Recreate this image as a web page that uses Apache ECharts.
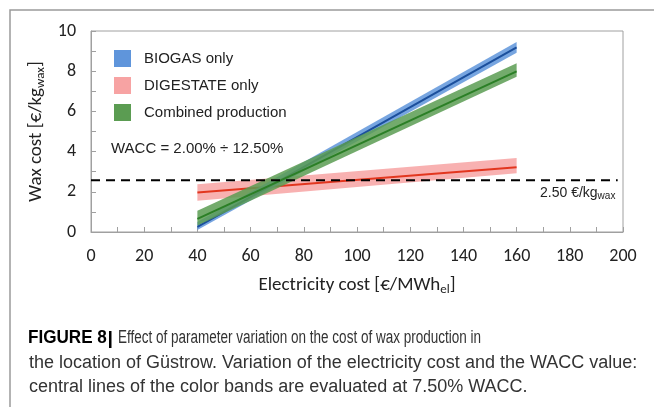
<!DOCTYPE html>
<html>
<head>
<meta charset="utf-8">
<script src="https://cdn.jsdelivr.net/npm/echarts@6/dist/echarts.min.js"></script>
<style>
  html, body { margin: 0; padding: 0; background: #fff; }
  #chart { width: 654px; height: 407px; }
</style>
</head>
<body>
<div id="chart"></div>
<script>
// electricity cost end points [€/MWh_el]
var xPoints = [40, 160];

// wax cost [€/kg_wax]: low / central (7.50% WACC) / high
var biogasLow = [0.1, 8.92];
var biogasMid = [0.25, 9.19];
var biogasHigh = [0.5, 9.45];

var digestateLow = [1.56, 2.92];
var digestateMid = [1.97, 3.22];
var digestateHigh = [2.37, 3.68];

var combinedLow = [0.32, 7.72];
var combinedMid = [0.65, 7.99];
var combinedHigh = [1.06, 8.4];

var targetCost = 2.57;
var targetRange = [0, 198];

var xTicks = [0, 20, 40, 60, 80, 100, 120, 140, 160, 180, 200];
var yTicks = [0, 2, 4, 6, 8, 10];

var font = 'Carlito, "Open Sans", sans-serif';
var capFont = 'Liberation Sans';

function pairs(xs, ys) {
    return xs.map(function (x, i) { return [x, ys[i]]; });
}

// polygon band between low and high lines
function band(name, color, low, high, z) {
    return {
        name: name,
        type: 'custom',
        itemStyle: { color: color },
        data: pairs(xPoints, low),
        z: z,
        renderItem: function (params, api) {
            if (params.dataIndex !== 0) return;
            var pts = [];
            for (var i = 0; i < xPoints.length; i++) pts.push(api.coord([xPoints[i], low[i]]));
            for (var j = xPoints.length - 1; j >= 0; j--) pts.push(api.coord([xPoints[j], high[j]]));
            return {
                type: 'polygon',
                shape: { points: pts },
                style: { fill: color, opacity: 0.85 }
            };
        }
    };
}

function centerLine(color, mid, z) {
    return {
        type: 'line',
        data: pairs(xPoints, mid),
        symbol: 'none',
        z: z,
        lineStyle: { color: color, width: 2 }
    };
}

var chart = echarts.init(document.getElementById('chart'));
chart.setOption({
    backgroundColor: '#fff',
    animation: false,
    grid: {
        left: 91, right: 31, top: 31, bottom: 175,
        show: true, borderColor: '#a0a0a0', borderWidth: 1
    },
    legend: {
        orient: 'vertical',
        left: 109, top: 45,
        itemWidth: 17, itemHeight: 17, itemGap: 10,
        icon: 'rect',
        data: ['BIOGAS only', 'DIGESTATE only', 'Combined production'],
        textStyle: { fontFamily: 'Liberation Sans', fontSize: 15, color: '#222', padding: [0, 0, 0, 8] }
    },
    xAxis: {
        type: 'value', min: 0, max: 200, interval: 20,
        name: 'Electricity cost [€/MWh{sub|el}]',
        nameLocation: 'middle', nameGap: 42,
        nameTextStyle: {
            fontFamily: font, fontSize: 19, color: '#222',
            rich: { sub: { fontSize: 13, verticalAlign: 'bottom', padding: [9, 0, 0, 0], fontFamily: font } }
        },
        axisLine: { lineStyle: { color: '#a0a0a0' } },
        axisTick: { inside: true, length: 5, lineStyle: { color: '#a0a0a0' } },
        minorTick: { show: true, splitNumber: 2, length: 5, lineStyle: { color: '#a0a0a0' } },
        axisLabel: {
            margin: 15, fontFamily: font, fontSize: 18, color: '#222',
            formatter: function (v) { return xTicks.indexOf(v) >= 0 ? v : ''; }
        },
        splitLine: { show: false }
    },
    yAxis: {
        type: 'value', min: 0, max: 10, interval: 2,
        name: 'Wax cost [€/kg{sub|wax}]',
        nameLocation: 'middle', nameGap: 36, nameRotate: 90,
        nameTextStyle: {
            fontFamily: font, fontSize: 19, color: '#222',
            rich: { sub: { fontSize: 13, verticalAlign: 'bottom', padding: [9, 0, 0, 0], fontFamily: font } }
        },
        axisLine: { show: true, lineStyle: { color: '#a0a0a0' } },
        axisTick: { show: true, inside: true, length: 5, lineStyle: { color: '#a0a0a0' } },
        minorTick: { show: true, splitNumber: 2, length: 5, lineStyle: { color: '#a0a0a0' } },
        axisLabel: {
            margin: 15, fontFamily: font, fontSize: 18, color: '#222',
            formatter: function (v) { return yTicks.indexOf(v) >= 0 ? v : ''; }
        },
        splitLine: { show: false }
    },
    series: [
        band('DIGESTATE only', '#f7a3a3', digestateLow, digestateHigh, 2),
        centerLine('#e2361f', digestateMid, 3),
        band('BIOGAS only', '#5f95db', biogasLow, biogasHigh, 4),
        centerLine('#1b4f9c', biogasMid, 5),
        band('Combined production', '#5b9c52', combinedLow, combinedHigh, 6),
        centerLine('#2b7f26', combinedMid, 7),
        {
            type: 'line',
            data: pairs(targetRange, [targetCost, targetCost]),
            symbol: 'none',
            z: 8,
            lineStyle: { color: '#000', width: 2, type: [9, 6] }
        }
    ],
    graphic: [
        // outer frame of the figure
        { type: 'polyline', shape: { points: [[10, 407], [10, 10], [654, 10]] },
          style: { stroke: '#9a9a9a', lineWidth: 1.5, fill: null } },
        { type: 'text', left: 111, top: 141,
          style: { text: 'WACC = 2.00% ÷ 12.50%', fontFamily: 'Liberation Sans', fontSize: 15, fill: '#222' } },
        { type: 'text', left: 540, top: 186,
          style: {
              text: '2.50 €/kg{sub|wax}', fontFamily: 'Liberation Sans', fontSize: 14, fill: '#222',
              rich: { sub: { fontSize: 10, fontFamily: 'Liberation Sans', padding: [7, 0, 0, 0], verticalAlign: 'bottom' } }
          } },
        // caption
        { type: 'text', x: 28, y: 329, scaleX: 0.95,
          style: { text: 'FIGURE 8', fontFamily: capFont, fontWeight: 'bold', fontSize: 18, fill: '#000' } },
        { type: 'rect', shape: { x: 109, y: 331, width: 2.5, height: 17 }, style: { fill: '#000' } },
        { type: 'text', x: 118, y: 329, scaleX: 0.75,
          style: { text: 'Effect of parameter variation on the cost of wax production in',
                   fontFamily: capFont, fontSize: 18, fill: '#333' } },
        { type: 'text', x: 29, y: 354,
          style: { text: 'the location of Güstrow. Variation of the electricity cost and the WACC value:',
                   fontFamily: capFont, fontSize: 18, fill: '#333' } },
        { type: 'text', x: 29, y: 378,
          style: { text: 'central lines of the color bands are evaluated at 7.50% WACC.',
                   fontFamily: capFont, fontSize: 18, fill: '#333' } }
    ]
});
</script>
</body>
</html>
